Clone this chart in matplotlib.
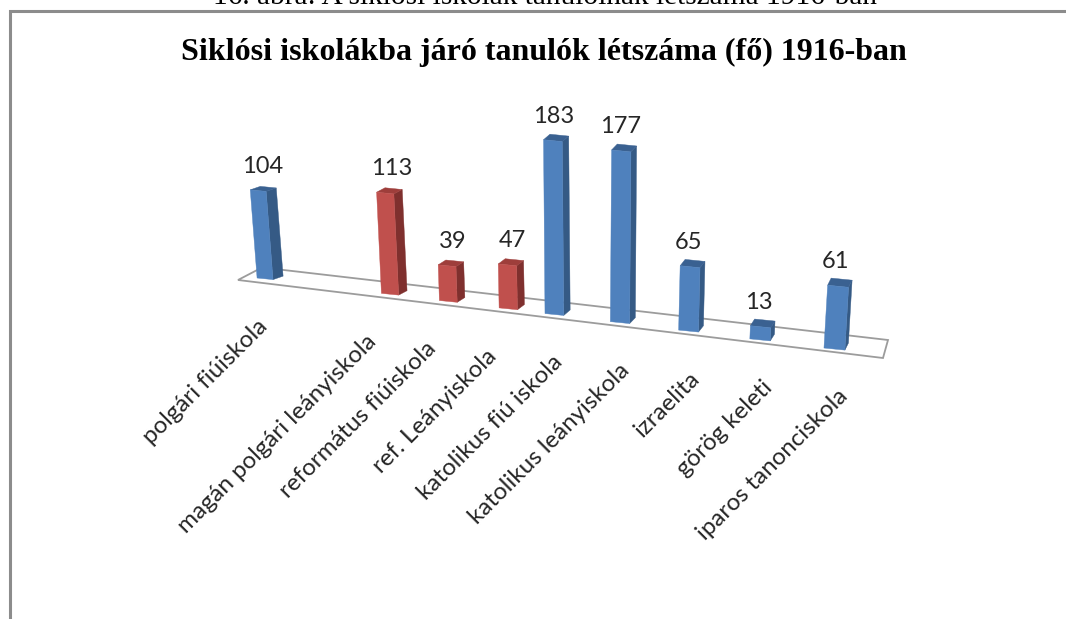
import numpy as np
import matplotlib
matplotlib.use('Agg')
import matplotlib.pyplot as plt
from matplotlib.patches import Polygon

caption = '16. ábra: A siklósi iskolák tanulóinak létszáma 1916-ban'
title = 'Siklósi iskolákba járó tanulók létszáma (fő) 1916-ban'
schools = ['polgári fiúiskola', 'magán polgári leányiskola', 'református fiúiskola',
           'ref. Leányiskola', 'katolikus fiú iskola', 'katolikus leányiskola',
           'izraelita', 'görög keleti', 'iparos tanonciskola']
students = [104, 113, 39, 47, 183, 177, 65, 13, 61]
groups = ['blue', 'red', 'red', 'red', 'blue', 'blue', 'blue', 'blue', 'blue']

"""Layout of the fake 3D scene, in pixels"""

slots = [-0.1, 2.27, 3.28, 4.27, 5, 6, 7, 8, 9]
shades = {'blue': ('#4F81BD', '#3A6191', '#355A85'),
          'red': ('#C0504D', '#9E3E3B', '#7F302E')}
label_shift = {'blue': 0, 'red': -19}
value_shift = {'blue': 0, 'red': 4}
FLOOR_COLOR = '#9C9C9C'
FRAME_COLOR = '#8C8C8C'


def base_x(p):
    return 262 + 49.3 * p + 1.46 * p ** 2


def base_y(x):
    return 278 + 0.1235 * (x - 257)


def bar_polys(p, value):
    x0 = base_x(p)
    y0 = base_y(x0)
    w = 16 + 0.55 * p
    h = value * (0.85 + 0.02 * p)
    lean = (x0 - 580) * 0.00024 * h
    dx = 10 - 0.72 * p
    dy = 3.5 + 0.4 * p
    bl = (x0, y0)
    br = (x0 + w, y0 + 0.1 * w)
    tl = (x0 + lean, y0 - h)
    tr = (x0 + w + lean, y0 - h + 0.1 * w)
    front = [bl, br, tr, tl]
    side = [br, (br[0] + dx, br[1] - dy), (tr[0] + dx, tr[1] - dy), tr]
    top = [tl, tr, (tr[0] + dx, tr[1] - dy), (tl[0] + dx, tl[1] - dy)]
    return front, side, top


fig = plt.figure(figsize=(10.66, 6.19), dpi=100)
ax = fig.add_axes([0, 0, 1, 1])
ax.set_xlim(0, 1066)
ax.set_ylim(619, 0)
ax.axis('off')

# frame, open at the bottom and on the right
ax.plot([9.5, 9.5, 1066], [619, 11, 11], color=FRAME_COLOR, lw=2.2, solid_joinstyle='miter')

ax.text(545, 4, caption, family='Liberation Serif', fontsize=21.2, ha='center', va='baseline', color='black')
ax.text(543.5, 60, title, family='Liberation Serif', fontsize=23, fontweight='bold', ha='center', va='baseline', color='black')

floor = [(238, 280), (262, 267.5), (888, 340), (883, 358)]
ax.add_patch(Polygon(floor, closed=True, facecolor='white', edgecolor=FLOOR_COLOR, lw=1.3, zorder=1))

for p, value, group, school in zip(slots, students, groups, schools):
    front, side, top = bar_polys(p, value)
    main, lid, dark = shades[group]
    ax.add_patch(Polygon(side, closed=True, facecolor=dark, edgecolor=dark, lw=0.3, zorder=2))
    ax.add_patch(Polygon(top, closed=True, facecolor=lid, edgecolor=lid, lw=0.3, zorder=2))
    ax.add_patch(Polygon(front, closed=True, facecolor=main, edgecolor=main, lw=0.3, zorder=3))

    top_x = (front[2][0] + front[3][0]) / 2
    top_y = front[3][1]
    ax.text(top_x + 4.5 - 0.8 * p + value_shift[group], top_y - 23.5, str(value), family='Lato', fontsize=17,
            ha='center', va='center', color='#262626')

    end_x = front[0][0] + 7 + 1.5 * p + label_shift[group]
    end_y = front[0][1] + 45
    ax.text(end_x, end_y, school, family='Lato', fontsize=17.4, rotation=45, rotation_mode='anchor',
            ha='right', va='center', color='#262626')

fig.savefig('out.png', dpi=100)
